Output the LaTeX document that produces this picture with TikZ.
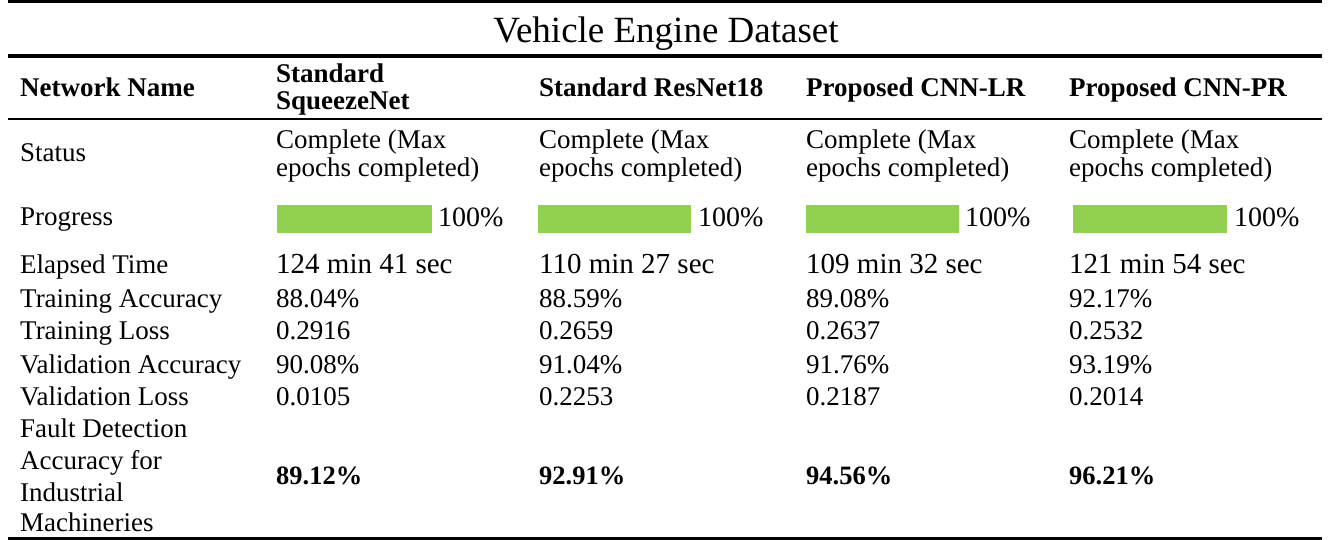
\documentclass[tikz,border=0pt]{standalone}
\usepackage{fontspec}
\setmainfont{Liberation Serif}
\definecolor{bargreen}{HTML}{92D050}
\tikzset{
  cell/.style={anchor=base west, inner sep=0pt, font=\fontsize{27}{32}\selectfont},
  hcell/.style={cell, font=\fontsize{27}{32}\selectfont\bfseries},
  bigcell/.style={cell, font=\fontsize{29}{32}\selectfont},
  boldval/.style={cell, font=\fontsize{26.5}{32}\selectfont\bfseries},
  pct/.style={cell, font=\fontsize{28}{32}\selectfont},
  bar/.style={fill=bargreen, draw=none},
  thickrule/.style={line width=3.5pt},
  thinrule/.style={line width=2pt},
}
\begin{document}
\begin{tikzpicture}[x=1pt,y=-1pt]
\useasboundingbox (0,0) rectangle (1334,540);
% rules
\draw[thickrule] (8,1.6) -- (1322,1.6);
\draw[thickrule] (8,56) -- (1322,56);
\draw[thinrule] (8,119.5) -- (1322,119.5);
\draw[thickrule] (8,538.3) -- (1322,538.3);
% title
\node[anchor=base, inner sep=0pt, font=\fontsize{37}{40}\selectfont] (title) at (666,43) {Vehicle Engine Dataset};
% header
\node[hcell] (h0) at (20,97) {Network Name};
\node[hcell] (h1a) at (276,83) {Standard};
\node[hcell] (h1b) at (276,110) {SqueezeNet};
\node[hcell] (h2) at (539,97) {Standard ResNet18};
\node[hcell] (h3) at (806,97) {Proposed CNN-LR};
\node[hcell] (h4) at (1069,97) {Proposed CNN-PR};
% status
\node[cell] (s0) at (20,162) {Status};
\foreach \x/\n in {276/1,539/2,806/3,1069/4}{
  \node[cell] (s\n a) at (\x,149) {Complete (Max};
  \node[cell] (s\n b) at (\x,177) {epochs completed)};
}
% progress
\node[cell] (p0) at (20,226) {Progress};
\foreach \bx/\ex/\tx/\n in {277/432/438/1,538/691/698/2,806/959/965/3,1073/1227/1234/4}{
  \fill[bar] (\bx,205) rectangle (\ex,233);
  \node[pct] (p\n) at (\tx,227) {100\%};
}
% elapsed
\node[cell] (e0) at (20,274) {Elapsed Time};
\node[bigcell] (e1) at (276,274) {124 min 41 sec};
\node[bigcell] (e2) at (539,274) {110 min 27 sec};
\node[bigcell] (e3) at (806,274) {109 min 32 sec};
\node[bigcell] (e4) at (1069,274) {121 min 54 sec};
% training accuracy
\node[cell] (ta0) at (20,307) {Training Accuracy};
\node[cell] (ta1) at (276,307) {88.04\%};
\node[cell] (ta2) at (539,307) {88.59\%};
\node[cell] (ta3) at (806,307) {89.08\%};
\node[cell] (ta4) at (1069,307) {92.17\%};
% training loss
\node[cell] (tl0) at (20,339) {Training Loss};
\node[cell] (tl1) at (276,339) {0.2916};
\node[cell] (tl2) at (539,339) {0.2659};
\node[cell] (tl3) at (806,339) {0.2637};
\node[cell] (tl4) at (1069,339) {0.2532};
% validation accuracy
\node[cell] (va0) at (20,373) {Validation Accuracy};
\node[cell] (va1) at (276,373) {90.08\%};
\node[cell] (va2) at (539,373) {91.04\%};
\node[cell] (va3) at (806,373) {91.76\%};
\node[cell] (va4) at (1069,373) {93.19\%};
% validation loss
\node[cell] (vl0) at (20,405) {Validation Loss};
\node[cell] (vl1) at (276,405) {0.0105};
\node[cell] (vl2) at (539,405) {0.2253};
\node[cell] (vl3) at (806,405) {0.2187};
\node[cell] (vl4) at (1069,405) {0.2014};
% fault detection
\node[cell] (f0a) at (20,437) {Fault Detection};
\node[cell] (f0b) at (20,469) {Accuracy for};
\node[cell] (f0c) at (20,501) {Industrial};
\node[cell] (f0d) at (20,531) {Machineries};
\node[boldval] (f1) at (276,484) {89.12\%};
\node[boldval] (f2) at (539,484) {92.91\%};
\node[boldval] (f3) at (806,484) {94.56\%};
\node[boldval] (f4) at (1069,484) {96.21\%};
\end{tikzpicture}
\end{document}
